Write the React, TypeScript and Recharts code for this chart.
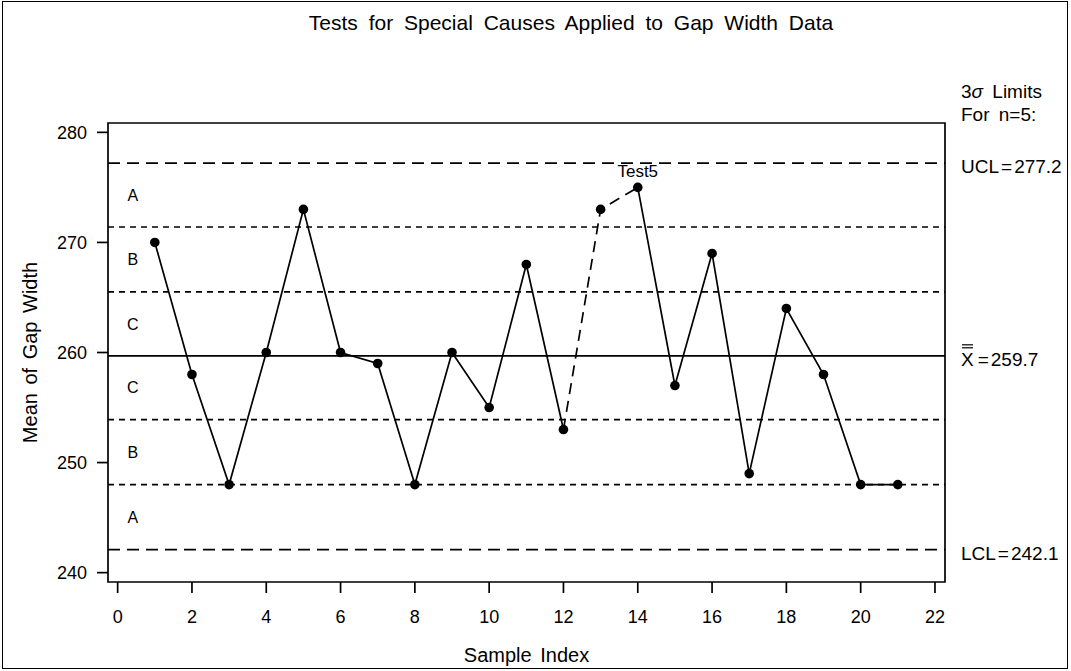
import { Label, Line, LineChart, ReferenceArea, ReferenceDot, ReferenceLine, XAxis, YAxis } from "recharts"

const sampleIndex = [1, 2, 3, 4, 5, 6, 7, 8, 9, 10, 11, 12, 13, 14, 15, 16, 17, 18, 19, 20, 21]
const gapMeans = [270, 258, 248, 260, 273, 260, 259, 248, 260, 255, 268, 253, 273, 275, 257, 269, 249, 264, 258, 248, 248]
// samples in the run flagged by test 5 (drawn with a dashed connector)
const test5Run = [12, 13, 14]

const ucl = 277.2
const centerLine = 259.7
const lcl = 242.1
const upperZones = [271.4, 265.5]
const lowerZones = [253.9, 248.0]
const zoneNames = ["A", "B", "C", "C", "B", "A"]

const xTicks = [0, 2, 4, 6, 8, 10, 12, 14, 16, 18, 20, 22]
const yTicks = [240, 250, 260, 270, 280]

const xDomain = [-0.26, 22.27]
const yDomain = [239.15, 280.85]

const font = "'Liberation Sans', Arial, Helvetica, sans-serif"
const lw = 1.7

const data = sampleIndex.map((x, i) => {
  const inRun = test5Run.includes(x)
  const interior = inRun && x !== test5Run[0] && x !== test5Run[test5Run.length - 1]
  return {
    x,
    mean: gapMeans[i],
    solid: interior ? null : gapMeans[i],
    flag: inRun ? gapMeans[i] : null,
  }
})

// zone letters sit midway between neighbouring limit lines
const bounds = [ucl, ...upperZones, centerLine, ...lowerZones, lcl]
const zoneMarks = zoneNames.map((name, i) => ({ name, y: (bounds[i] + bounds[i + 1]) / 2 }))
const lastFlagIndex = sampleIndex.indexOf(test5Run[test5Run.length - 1])

const limitLabel = (name: string, value: number) => (props: any) => {
  const { x, y, width } = props.viewBox
  return (
    <text x={x + width + 16} y={y + 10} fontSize={19} fontFamily={font} fill="#000">
      {name}
      <tspan dx={2}>=</tspan>
      <tspan dx={2}>{value.toFixed(1)}</tspan>
    </text>
  )
}

const centerLabel = (props: any) => {
  const { x, y, width } = props.viewBox
  const lx = x + width + 16
  return (
    <g>
      <line x1={lx + 1} x2={lx + 12} y1={y - 11} y2={y - 11} stroke="#000" strokeWidth={1.2} />
      <line x1={lx + 1} x2={lx + 12} y1={y - 8} y2={y - 8} stroke="#000" strokeWidth={1.2} />
      <text x={lx} y={y + 10} fontSize={19} fontFamily={font} fill="#000">
        X<tspan dx={4}>=</tspan>
        <tspan dx={2}>{centerLine.toFixed(1)}</tspan>
      </text>
    </g>
  )
}

const test5Label = (props: any) => {
  const { x, y, index } = props
  if (index !== lastFlagIndex) return null
  return (
    <text x={x} y={y - 10} textAnchor="middle" fontSize={17} fontFamily={font} fill="#000">
      Test5
    </text>
  )
}

const yTitle = (props: any) => {
  const { viewBox } = props
  const cx = 37
  const cy = viewBox.y + viewBox.height / 2
  return (
    <text x={cx} y={cy} transform={`rotate(-90 ${cx} ${cy})`} textAnchor="middle" fontSize={20} fontFamily={font} fill="#000" wordSpacing={3}>
      Mean of Gap Width
    </text>
  )
}

const xTitle = (props: any) => {
  const { viewBox } = props
  return (
    <text x={viewBox.x + viewBox.width / 2} y={662} textAnchor="middle" fontSize={20} fontFamily={font} fill="#000" wordSpacing={3}>
      Sample Index
    </text>
  )
}

export default function App() {
  return (
    <div style={{ position: "relative", width: 1071, height: 671, background: "#fff", fontFamily: font }}>
      <style>{`body{margin:0}`}</style>
      <div
        style={{
          position: "absolute",
          left: 2,
          top: 1,
          width: 1064,
          height: 666,
          border: "1.5px solid #000",
          pointerEvents: "none",
        }}
      />
      <div
        style={{
          position: "absolute",
          top: 11,
          left: 0,
          width: 1142,
          textAlign: "center",
          fontSize: 21,
          wordSpacing: 5,
          lineHeight: "24px",
        }}
      >
        Tests for Special Causes Applied to Gap Width Data
      </div>
      <div style={{ position: "absolute", left: 961, top: 80, fontSize: 19, lineHeight: "23px", wordSpacing: 4 }}>
        <div>
          3<i>σ</i> Limits
        </div>
        <div>For n=5:</div>
      </div>
      <LineChart width={1071} height={671} data={data} margin={{ top: 123, right: 126, left: 0, bottom: 0 }}>
        <XAxis
          type="number"
          dataKey="x"
          domain={xDomain}
          ticks={xTicks}
          allowDataOverflow
          axisLine={false}
          tickLine={{ stroke: "#000", strokeWidth: lw }}
          tickSize={11}
          tickMargin={17}
          height={89}
          tick={{ fontSize: 18, fill: "#000", fontFamily: font }}
        >
          <Label content={xTitle} />
        </XAxis>
        <YAxis
          type="number"
          domain={yDomain}
          ticks={yTicks}
          allowDataOverflow
          axisLine={false}
          tickLine={{ stroke: "#000", strokeWidth: lw }}
          tickSize={11}
          tickMargin={10}
          width={108}
          tick={{ fontSize: 18, fill: "#000", fontFamily: font }}
        >
          <Label content={yTitle} />
        </YAxis>
        <ReferenceArea
          x1={xDomain[0]}
          x2={xDomain[1]}
          y1={yDomain[0]}
          y2={yDomain[1]}
          fill="none"
          stroke="#000"
          strokeWidth={lw}
          ifOverflow="visible"
        />
        <ReferenceLine y={ucl} stroke="#000" strokeWidth={lw} strokeDasharray="12 7" label={limitLabel("UCL", ucl)} />
        <ReferenceLine y={lcl} stroke="#000" strokeWidth={lw} strokeDasharray="12 7" label={limitLabel("LCL", lcl)} />
        <ReferenceLine y={centerLine} stroke="#000" strokeWidth={lw} label={centerLabel} />
        {[...upperZones, ...lowerZones].map((v) => (
          <ReferenceLine key={v} y={v} stroke="#000" strokeWidth={lw} strokeDasharray="6 5" />
        ))}
        {zoneMarks.map((z, i) => (
          <ReferenceDot
            key={i}
            x={0.41}
            y={z.y}
            r={0}
            fill="none"
            stroke="none"
            label={{ value: z.name, position: "center", fontSize: 16, fill: "#000", fontFamily: font }}
          />
        ))}
        <Line dataKey="solid" stroke="#000" strokeWidth={lw} dot={false} activeDot={false} isAnimationActive={false} />
        <Line
          dataKey="flag"
          stroke="#000"
          strokeWidth={lw}
          strokeDasharray="11 7"
          dot={false}
          activeDot={false}
          isAnimationActive={false}
        />
        <Line
          dataKey="mean"
          stroke="none"
          dot={{ r: 4.8, fill: "#000", stroke: "none" }}
          activeDot={false}
          label={test5Label}
          isAnimationActive={false}
        />
      </LineChart>
    </div>
  )
}
